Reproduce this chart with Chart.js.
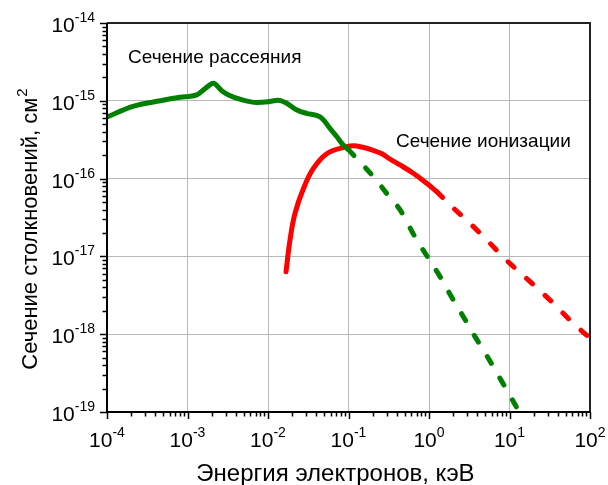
<!DOCTYPE html>
<html><head><meta charset="utf-8">
<script src="https://cdn.jsdelivr.net/npm/chart.js@4.4.0/dist/chart.umd.min.js"></script>
<style>html,body{margin:0;padding:0;background:#fff}</style>
</head><body>
<canvas id="c" width="608" height="485"></canvas>
<script>
// ---- data (energy in keV, cross-section in cm^2) ----
const scatterSolidE = [1e-4, 2.1e-4, 4.6e-4, 8.07e-4, 1.30e-3, 1.66e-3, 2.09e-3, 2.66e-3, 3.23e-3, 4.9e-3, 7.2e-3, 1.0e-2, 1.34e-2, 1.71e-2, 2.29e-2, 3.0e-2, 4.44e-2, 0.051, 0.059, 0.0713, 0.086, 0.1];
const scatterSolidS = [6.2e-16, 8.5e-16, 1.0e-15, 1.11e-15, 1.19e-15, 1.44e-15, 1.68e-15, 1.35e-15, 1.19e-15, 1.02e-15, 9.5e-16, 9.7e-16, 1.02e-15, 9.3e-16, 7.6e-16, 6.9e-16, 6.2e-16, 5.4e-16, 4.4e-16, 3.47e-16, 2.7e-16, 2.35e-16];
const scatterDashE = [0.1, 0.126, 0.204, 0.30, 0.436, 0.67, 0.98, 1.37, 1.91, 2.67, 3.73, 5.46, 10, 14];
const scatterDashS = [2.35e-16, 1.82e-16, 1.06e-16, 6.4e-17, 3.98e-17, 1.78e-17, 9.5e-18, 5.5e-18, 3.0e-18, 1.68e-18, 9.3e-19, 4.9e-19, 1.66e-19, 9.0e-20];
const ionSolidE = [0.01675, 0.01875, 0.0216, 0.0275, 0.0366, 0.0536, 0.0861, 0.1264, 0.246, 0.328, 0.436, 0.638, 0.935, 1.25];
const ionSolidS = [6.35e-18, 1.62e-17, 3.55e-17, 7.4e-17, 1.35e-16, 2.09e-16, 2.51e-16, 2.63e-16, 2.14e-16, 1.78e-16, 1.50e-16, 1.17e-16, 8.7e-17, 6.8e-17];
const ionDashE = [1.25, 1.82, 3.23, 5.46, 9.2, 16.3, 31.8, 62, 100];
const ionDashS = [6.8e-17, 4.6e-17, 2.66e-17, 1.55e-17, 8.9e-18, 5.2e-18, 2.75e-18, 1.38e-18, 8.9e-19];
const xTickExps = [-4, -3, -2, -1, 0, 1, 2];
const yTickExps = [-19, -18, -17, -16, -15, -14];
const xTitle = 'Энергия электронов, кэВ';
const yTitle = 'Сечение столкновений, см';
const yTitleSup = '2';
const labelScatter = 'Сечение рассеяния';
const labelIon = 'Сечение ионизации';

const GREEN = '#008000', RED = '#ff0000';
const FONT = '"Liberation Sans", Arial, sans-serif';
const pts = (xs, ys) => xs.map((x, i) => ({x, y: ys[i]}));
const base = {borderWidth: 5, pointRadius: 0, cubicInterpolationMode: 'monotone', fill: false, borderCapStyle: 'round', borderJoinStyle: 'round'};

const decor = {
  id: 'decor',
  afterDraw(chart) {
    const ctx = chart.ctx, xs = chart.scales.x, ys = chart.scales.y, a = chart.chartArea;
    ctx.save();
    // frame
    ctx.strokeStyle = '#222'; ctx.lineWidth = 2;
    ctx.beginPath(); ctx.moveTo(a.left, a.top); ctx.lineTo(a.right, a.top); ctx.lineTo(a.right, a.bottom); ctx.stroke();
    ctx.strokeStyle = '#000';
    ctx.beginPath(); ctx.moveTo(a.left, a.top); ctx.lineTo(a.left, a.bottom); ctx.lineTo(a.right, a.bottom); ctx.stroke();
    // ticks
    ctx.lineWidth = 1.5;
    ctx.beginPath();
    for (let i = 0; i < xTickExps.length; i++) {
      const e = xTickExps[i];
      for (let m = 1; m < 10; m++) {
        if (i === xTickExps.length - 1 && m > 1) break;
        const px = Math.round(xs.getPixelForValue(m * Math.pow(10, e))) + 0.5;
        const len = m === 1 ? 7 : 4.5;
        ctx.moveTo(px, a.bottom); ctx.lineTo(px, a.bottom + len);
      }
    }
    for (let i = 0; i < yTickExps.length; i++) {
      const e = yTickExps[i];
      for (let m = 1; m < 10; m++) {
        if (i === yTickExps.length - 1 && m > 1) break;
        const py = Math.round(ys.getPixelForValue(m * Math.pow(10, e))) + 0.5;
        const len = m === 1 ? 7 : 4.5;
        ctx.moveTo(a.left, py); ctx.lineTo(a.left - len, py);
      }
    }
    ctx.stroke();
    // tick labels
    ctx.fillStyle = '#000'; ctx.textBaseline = 'alphabetic'; ctx.textAlign = 'left';
    const big = '21px ' + FONT, small = '14px ' + FONT;
    xTickExps.forEach(e => {
      const px = xs.getPixelForValue(Math.pow(10, e));
      ctx.font = big; const w1 = ctx.measureText('10').width;
      ctx.font = small; const es = String(e); const w2 = ctx.measureText(es).width;
      const x0 = px - (w1 + w2) / 2;
      ctx.font = big; ctx.fillText('10', x0, a.bottom + 35);
      ctx.font = small; ctx.fillText(es, x0 + w1, a.bottom + 25);
    });
    yTickExps.forEach(e => {
      const py = ys.getPixelForValue(Math.pow(10, e));
      ctx.font = small; const es = String(e); const w2 = ctx.measureText(es).width;
      ctx.font = big; const w1 = ctx.measureText('10').width;
      const xr = a.left - 12;
      ctx.font = big; ctx.fillText('10', xr - w2 - w1, py + 9);
      ctx.font = small; ctx.fillText(es, xr - w2, py - 1);
    });
    // axis titles
    ctx.font = '24px ' + FONT; ctx.textAlign = 'center';
    ctx.fillText(xTitle, (a.left + a.right) / 2 - 13, 481);
    ctx.save();
    ctx.translate(37, (a.top + a.bottom) / 2 + 12);
    ctx.rotate(-Math.PI / 2);
    ctx.textAlign = 'left';
    ctx.font = '22px ' + FONT; const t1 = ctx.measureText(yTitle).width;
    ctx.font = '15px ' + FONT; const t2 = ctx.measureText(yTitleSup).width;
    const s0 = -(t1 + t2) / 2;
    ctx.font = '22px ' + FONT; ctx.fillText(yTitle, s0, 0);
    ctx.font = '15px ' + FONT; ctx.fillText(yTitleSup, s0 + t1 + 1, -10);
    ctx.restore();
    // annotations
    ctx.font = '19px ' + FONT; ctx.textAlign = 'left';
    ctx.fillText(labelScatter, 128, 63);
    ctx.fillText(labelIon, 396, 147);
    ctx.restore();
  }
};

new Chart(document.getElementById('c'), {
  type: 'line',
  data: {
    datasets: [
      Object.assign({data: pts(scatterSolidE, scatterSolidS), borderColor: GREEN}, base),
      Object.assign({data: pts(scatterDashE, scatterDashS), borderColor: GREEN, borderDash: [8, 17]}, base),
      Object.assign({data: pts(ionSolidE, ionSolidS), borderColor: RED}, base, {cubicInterpolationMode: 'default', tension: 0.4}),
      Object.assign({data: pts(ionDashE, ionDashS), borderColor: RED, borderDash: [8, 17]}, base)
    ]
  },
  options: {
    responsive: false, animation: false, devicePixelRatio: 1,
    layout: {padding: {top: 23, right: 18, left: 0, bottom: 0}},
    plugins: {legend: {display: false}, tooltip: {enabled: false}},
    scales: {
      x: {
        type: 'logarithmic', min: 1e-4, max: 1e2,
        afterBuildTicks: s => { s.ticks = xTickExps.map(e => ({value: Math.pow(10, e)})); },
        afterFit: s => { s.height = 73; },
        ticks: {display: false},
        grid: {color: '#b8b8b8', lineWidth: 1, drawTicks: false},
        border: {display: false}
      },
      y: {
        type: 'logarithmic', min: 1e-19, max: 1e-14,
        afterBuildTicks: s => { s.ticks = yTickExps.map(e => ({value: Math.pow(10, e)})); },
        afterFit: s => { s.width = 107; },
        ticks: {display: false},
        grid: {color: '#b8b8b8', lineWidth: 1, drawTicks: false},
        border: {display: false}
      }
    }
  },
  plugins: [decor]
});
</script>
</body></html>
